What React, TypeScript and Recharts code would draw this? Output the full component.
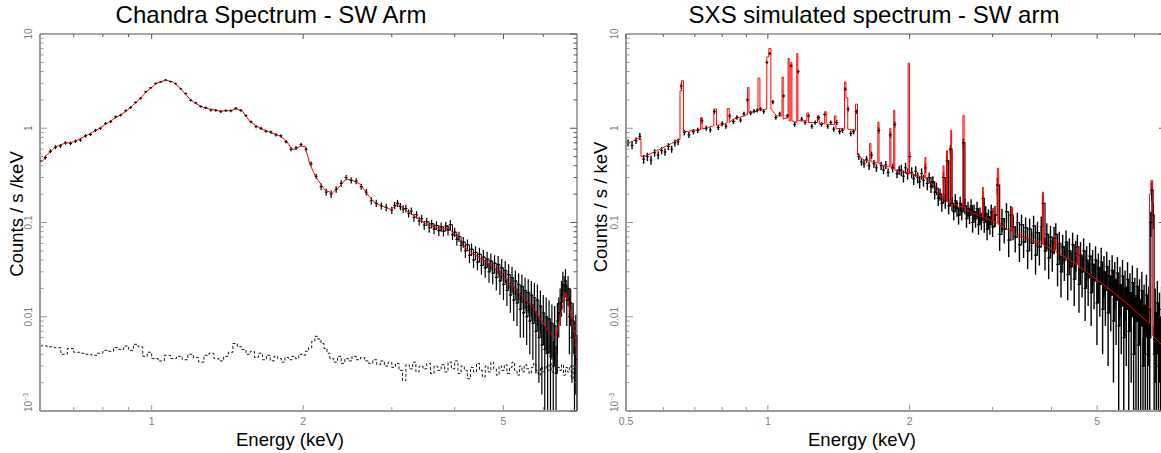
import React from 'react';
import { ComposedChart, Line, Scatter, XAxis, YAxis, ErrorBar } from 'recharts';

// ---------------- Chandra (left panel) ----------------
const chandraEnergy = [
  0.601, 0.615, 0.629, 0.644, 0.659, 0.674, 0.690, 0.706, 0.722, 0.739,
  0.756, 0.773, 0.791, 0.810, 0.829, 0.848, 0.868, 0.888, 0.908, 0.929,
  0.951, 0.973, 0.995, 1.019, 1.042, 1.066, 1.091, 1.116, 1.142, 1.169,
  1.196, 1.224, 1.252, 1.281, 1.311, 1.341, 1.372, 1.404, 1.437, 1.470,
  1.504, 1.539, 1.575, 1.612, 1.649, 1.687, 1.726, 1.766, 1.807, 1.849,
  1.892, 1.936, 1.981, 2.027, 2.074, 2.122, 2.171, 2.222, 2.273, 2.326,
  2.380, 2.435, 2.492, 2.549, 2.608, 2.669, 2.731, 2.794, 2.859, 2.925,
  3.00, 3.04, 3.08, 3.12, 3.16, 3.20, 3.24, 3.28, 3.32, 3.36,
  3.40, 3.44, 3.48, 3.52, 3.56, 3.60, 3.64, 3.68, 3.72, 3.76,
  3.80, 3.84, 3.88, 3.92, 3.96, 4.00, 4.04, 4.08, 4.12, 4.16,
  4.20, 4.24, 4.28, 4.32, 4.36, 4.40, 4.44, 4.48, 4.52, 4.56,
  4.60, 4.64, 4.68, 4.72, 4.76, 4.80, 4.84, 4.88, 4.92, 4.96,
  5.00, 5.04, 5.08, 5.12, 5.16, 5.20, 5.24, 5.28, 5.32, 5.36,
  5.40, 5.44, 5.48, 5.52, 5.56, 5.60, 5.64, 5.68, 5.72, 5.76,
  5.80, 5.84, 5.88, 5.92, 5.96, 6.00, 6.04, 6.08, 6.12, 6.16,
  6.20, 6.24, 6.28, 6.32, 6.36, 6.40, 6.44, 6.48, 6.52, 6.56,
  6.60, 6.64, 6.68, 6.72, 6.76, 6.80, 6.84, 6.88, 6.92, 6.96,
  7.00,
];
const chandraRate = [
  0.45, 0.49, 0.57, 0.63, 0.65, 0.70, 0.69, 0.73, 0.75, 0.83,
  0.86, 0.95, 1.00, 1.12, 1.18, 1.32, 1.38, 1.53, 1.66, 1.88,
  2.08, 2.43, 2.68, 2.98, 3.10, 3.25, 3.13, 2.97, 2.62, 2.33,
  1.98, 1.86, 1.70, 1.65, 1.56, 1.55, 1.50, 1.54, 1.53, 1.63,
  1.55, 1.36, 1.17, 1.04, 1.00, 0.93, 0.91, 0.85, 0.83, 0.72,
  0.60, 0.62, 0.67, 0.60, 0.42, 0.31, 0.24, 0.21, 0.20, 0.225,
  0.26, 0.30, 0.28, 0.275, 0.24, 0.21, 0.17, 0.16, 0.15, 0.145,
  0.135, 0.152, 0.160, 0.148, 0.139, 0.141, 0.125, 0.132, 0.113, 0.121,
  0.104, 0.110, 0.094, 0.102, 0.088, 0.097, 0.085, 0.093, 0.082, 0.090,
  0.081, 0.092, 0.083, 0.095, 0.074, 0.079, 0.066, 0.071, 0.057, 0.062,
  0.050, 0.058, 0.045, 0.052, 0.040, 0.048, 0.038, 0.046, 0.035, 0.043,
  0.033, 0.041, 0.030, 0.039, 0.029, 0.037, 0.026, 0.036, 0.024, 0.033,
  0.022, 0.031, 0.019, 0.028, 0.017, 0.026, 0.015, 0.024, 0.014, 0.022,
  0.012, 0.021, 0.011, 0.019, 0.010, 0.018, 0.0090, 0.017, 0.0085, 0.016,
  0.0070, 0.015, 0.0060, 0.013, 0.0050, 0.011, 0.0045, 0.010, 0.0042, 0.0095,
  0.0038, 0.0085, 0.0030, 0.0080, 0.0025, 0.0090, 0.011, 0.014, 0.017, 0.022,
  0.019, 0.024, 0.015, 0.020, 0.010, 0.014, 0.0060, 0.0090, 0.0030, 0.0060,
  0.0035,
];
const chandraError = [
  0.025, 0.025, 0.028, 0.03, 0.03, 0.03, 0.03, 0.03, 0.03, 0.035,
  0.035, 0.035, 0.04, 0.04, 0.04, 0.045, 0.045, 0.05, 0.05, 0.05,
  0.06, 0.06, 0.065, 0.07, 0.07, 0.07, 0.07, 0.07, 0.065, 0.06,
  0.055, 0.05, 0.05, 0.05, 0.05, 0.05, 0.05, 0.05, 0.05, 0.05,
  0.05, 0.045, 0.04, 0.04, 0.04, 0.035, 0.035, 0.035, 0.035, 0.03,
  0.03, 0.03, 0.03, 0.03, 0.025, 0.02, 0.02, 0.018, 0.018, 0.018,
  0.02, 0.02, 0.02, 0.02, 0.018, 0.017, 0.015, 0.014, 0.013, 0.013,
  0.012, 0.013, 0.014, 0.013, 0.013, 0.013, 0.012, 0.012, 0.011, 0.011,
  0.011, 0.011, 0.010, 0.010, 0.010, 0.010, 0.010, 0.010, 0.010, 0.010,
  0.010, 0.010, 0.010, 0.011, 0.009, 0.009, 0.009, 0.009, 0.008, 0.008,
  0.008, 0.008, 0.008, 0.008, 0.007, 0.008, 0.007, 0.008, 0.007, 0.008,
  0.007, 0.008, 0.007, 0.008, 0.007, 0.008, 0.007, 0.008, 0.007, 0.008,
  0.007, 0.008, 0.006, 0.008, 0.006, 0.008, 0.006, 0.007, 0.006, 0.007,
  0.006, 0.007, 0.005, 0.007, 0.005, 0.007, 0.005, 0.007, 0.005, 0.007,
  0.0045, 0.007, 0.004, 0.006, 0.0035, 0.006, 0.0035, 0.006, 0.0032, 0.0055,
  0.003, 0.005, 0.0025, 0.005, 0.0024, 0.005, 0.005, 0.006, 0.007, 0.008,
  0.008, 0.008, 0.007, 0.007, 0.006, 0.006, 0.004, 0.005, 0.0025, 0.0045,
  0.003,
];
const chandraBkgEnergy = [
  0.60, 0.62, 0.64, 0.66, 0.68, 0.70, 0.72, 0.74, 0.76, 0.78, 0.80, 0.82, 0.84, 0.86, 0.88, 0.90, 0.92, 0.94, 0.96, 0.98,
  1.00, 1.03, 1.06, 1.09, 1.12, 1.15, 1.18, 1.21, 1.24, 1.27, 1.30, 1.33, 1.36, 1.39, 1.42, 1.45, 1.48, 1.51, 1.54, 1.57,
  1.60, 1.63, 1.66, 1.69, 1.72, 1.75, 1.78, 1.81, 1.84, 1.87, 1.90, 1.93, 1.96, 1.99, 2.02, 2.05, 2.08, 2.11, 2.14, 2.17,
  2.20, 2.23, 2.26, 2.30, 2.34, 2.38, 2.42, 2.46, 2.50, 2.55, 2.60, 2.65, 2.70, 2.75, 2.80, 2.85, 2.90, 2.95, 3.00, 3.05,
  3.10, 3.15, 3.20, 3.25, 3.30, 3.35, 3.40, 3.46, 3.52, 3.58, 3.64, 3.70, 3.76, 3.82, 3.88, 3.94, 4.00, 4.06, 4.12, 4.18,
  4.24, 4.30, 4.36, 4.42, 4.48, 4.54, 4.60, 4.66, 4.72, 4.78, 4.84, 4.90, 4.96, 5.02, 5.08, 5.14, 5.20, 5.26, 5.32, 5.38,
  5.44, 5.50, 5.56, 5.62, 5.68, 5.74, 5.80, 5.86, 5.92, 5.98, 6.04, 6.10, 6.16, 6.22, 6.28, 6.34, 6.40, 6.46, 6.52, 6.58,
  6.64, 6.70, 6.76, 6.82, 6.88, 6.94, 7.00,
];
const chandraBkgRate = [
  0.0049, 0.0048, 0.0047, 0.0040, 0.0046, 0.0042, 0.0041, 0.0040, 0.0039, 0.0041, 0.0044, 0.0043, 0.0047, 0.0045, 0.0049, 0.0044, 0.0051, 0.0048, 0.0038, 0.0042,
  0.0036, 0.0034, 0.0039, 0.0036, 0.0038, 0.0035, 0.0040, 0.0037, 0.0033, 0.0039, 0.0041, 0.0036, 0.0034, 0.0038, 0.0042, 0.0052, 0.0048, 0.0045, 0.0040, 0.0043,
  0.0037, 0.0041, 0.0035, 0.0039, 0.0034, 0.0038, 0.0036, 0.0033, 0.0037, 0.0035, 0.0038, 0.0036, 0.0040, 0.0039, 0.0043, 0.0047, 0.0055, 0.0062, 0.0058, 0.0052,
  0.0046, 0.0041, 0.0036, 0.0033, 0.0038, 0.0032, 0.0036, 0.0034, 0.0038, 0.0035, 0.0037, 0.0034, 0.0032, 0.0035, 0.0031, 0.0034, 0.0030, 0.0033, 0.0029, 0.0032,
  0.0027, 0.0021, 0.0031, 0.0028, 0.0033, 0.0026, 0.0030, 0.0028, 0.0032, 0.0025, 0.0030, 0.0027, 0.0031, 0.0026, 0.0033, 0.0028, 0.0034, 0.0025, 0.0030, 0.0027,
  0.0022, 0.0029, 0.0026, 0.0032, 0.0027, 0.0023, 0.0030, 0.0026, 0.0033, 0.0028, 0.0024, 0.0030, 0.0027, 0.0031, 0.0025, 0.0029, 0.0033, 0.0027, 0.0024, 0.0030,
  0.0026, 0.0031, 0.0028, 0.0025, 0.0029, 0.0032, 0.0027, 0.0024, 0.0029, 0.0026, 0.0030, 0.0027, 0.0032, 0.0026, 0.0030, 0.0025, 0.0029, 0.0027, 0.0031, 0.0024,
  0.0029, 0.0026, 0.0030, 0.0022, 0.0028, 0.0025, 0.0027,
];
const chandraModelEnergy = [
  0.60, 0.61, 0.618, 0.629, 0.641, 0.656, 0.671, 0.703, 0.746, 0.788,
  0.836, 0.884, 0.934, 0.977, 1.023, 1.047, 1.071, 1.101, 1.137, 1.18,
  1.218, 1.275, 1.366, 1.43, 1.476, 1.518, 1.567, 1.641, 1.718, 1.798,
  1.857, 1.9, 1.935, 1.972, 2.017, 2.064, 2.122, 2.212, 2.284, 2.369,
  2.435, 2.503, 2.596, 2.693, 2.782, 2.979, 3.09, 3.266, 3.497, 3.746,
  3.887, 4.0, 4.242, 4.777, 5.237, 5.74, 6.12, 6.35, 6.53, 6.65,
  6.8, 6.96, 7.0,
];
const chandraModelRate = [
  0.43, 0.46, 0.52, 0.56, 0.62, 0.66, 0.69, 0.72, 0.85, 1.0,
  1.23, 1.48, 1.9, 2.45, 3.0, 3.15, 3.22, 3.1, 2.7, 2.15,
  1.85, 1.64, 1.52, 1.54, 1.6, 1.5, 1.18, 1.0, 0.91, 0.83,
  0.72, 0.6, 0.6, 0.65, 0.64, 0.41, 0.30, 0.22, 0.205, 0.245,
  0.29, 0.28, 0.255, 0.195, 0.16, 0.138, 0.155, 0.125, 0.098, 0.085,
  0.087, 0.075, 0.051, 0.034, 0.0205, 0.0123, 0.0072, 0.0059, 0.0118, 0.018,
  0.011, 0.0056, 0.0028,
];

// ---------------- SXS (right panel) ----------------
const sxsEnergy = [
  0.505, 0.515, 0.525, 0.535, 0.545, 0.555, 0.565, 0.575, 0.585, 0.595,
  0.605, 0.615, 0.625, 0.635, 0.645, 0.655, 0.665, 0.68, 0.695, 0.71,
  0.725, 0.74, 0.755, 0.77, 0.785, 0.80, 0.815, 0.83, 0.845, 0.86,
  0.875, 0.89, 0.905, 0.92, 0.935, 0.95, 0.965, 0.98, 0.995, 1.01,
  1.025, 1.04, 1.06, 1.08, 1.10, 1.12, 1.14, 1.16, 1.18, 1.20,
  1.22, 1.24, 1.26, 1.28, 1.30, 1.32, 1.34, 1.36, 1.38, 1.40,
  1.42, 1.44, 1.46, 1.48, 1.50, 1.52, 1.54, 1.56, 1.58, 1.60,
  1.62, 1.64, 1.66, 1.68, 1.70, 1.72, 1.74, 1.76, 1.78, 1.80,
  1.82, 1.84, 1.86, 1.88, 1.90, 1.92, 1.94, 1.96, 1.98, 2.00,
  2.02, 2.04, 2.06, 2.08, 2.10, 2.12, 2.14, 2.16, 2.18, 2.20,
  2.22, 2.24, 2.26, 2.28, 2.30, 2.32, 2.34, 2.36, 2.38, 2.40,
  2.42, 2.44, 2.46, 2.48, 2.50, 2.52, 2.54, 2.56, 2.58, 2.60,
  2.62, 2.64, 2.66, 2.68, 2.70, 2.72, 2.74, 2.76, 2.78, 2.80,
  2.82, 2.84, 2.86, 2.88, 2.90, 2.92, 2.94, 2.96, 2.98, 3.00,
  3.035, 3.07, 3.105, 3.14, 3.175, 3.21, 3.245, 3.28, 3.315, 3.35,
  3.385, 3.42, 3.455, 3.49, 3.525, 3.56, 3.595, 3.63, 3.665, 3.70,
  3.735, 3.77, 3.805, 3.84, 3.875, 3.91, 3.945, 3.98, 4.015, 4.05,
  4.085, 4.12, 4.155, 4.19, 4.225, 4.26, 4.295, 4.33, 4.365, 4.40,
  4.435, 4.47, 4.505, 4.54, 4.575, 4.61, 4.645, 4.68, 4.715, 4.75,
  4.785, 4.82, 4.855, 4.89, 4.925, 4.96, 4.995, 5.03, 5.065, 5.10,
  5.135, 5.17, 5.205, 5.24, 5.275, 5.31, 5.345, 5.38, 5.415, 5.45,
  5.485, 5.52, 5.555, 5.59, 5.625, 5.66, 5.695, 5.73, 5.765, 5.80,
  5.835, 5.87, 5.905, 5.94, 5.975, 6.01, 6.045, 6.08, 6.115, 6.15,
  6.185, 6.22, 6.255, 6.29, 6.325, 6.36, 6.395, 6.43, 6.465, 6.50,
  6.535, 6.57, 6.605, 6.64, 6.675, 6.71, 6.745, 6.78, 6.815, 6.85,
  6.885, 6.92, 6.955, 6.99,
];
const sxsRate = [
  0.70, 0.66, 0.74, 0.82, 0.47, 0.50, 0.46, 0.55, 0.52, 0.58,
  0.56, 0.64, 0.60, 0.70, 0.72, 2.8, 0.90, 0.85, 0.92, 0.95,
  1.20, 1.00, 0.96, 1.50, 1.02, 1.12, 1.05, 1.35, 1.18, 1.30,
  1.22, 1.42, 2.00, 1.45, 1.52, 1.55, 1.60, 1.50, 5.0, 6.2,
  1.90, 1.30, 1.42, 2.20, 1.35, 4.6, 1.10, 4.0, 1.25, 1.15,
  1.35, 1.05, 1.15, 1.30, 1.10, 1.40, 1.05, 1.15, 0.98, 1.15,
  0.92, 0.95, 2.6, 1.6, 0.88, 0.92, 1.5, 0.50, 0.44, 0.42,
  0.47, 0.40, 0.52, 0.42, 0.38, 0.95, 0.40, 0.36, 0.41, 0.34,
  0.85, 0.38, 1.10, 0.33, 0.36, 0.36, 0.31, 0.38, 0.33, 0.50,
  0.34, 0.29, 0.35, 0.30, 0.27, 0.33, 0.28, 0.38, 0.26, 0.30,
  0.24, 0.27, 0.21, 0.23, 0.18, 0.20, 0.16, 0.30, 0.17, 0.45,
  0.15, 0.60, 0.16, 0.13, 0.17, 0.14, 0.12, 0.16, 0.13, 0.70,
  0.15, 0.11, 0.14, 0.12, 0.15, 0.10, 0.13, 0.11, 0.14, 0.095,
  0.12, 0.105, 0.18, 0.10, 0.125, 0.085, 0.115, 0.095, 0.13, 0.09,
  0.12, 0.25, 0.075, 0.11, 0.085, 0.13, 0.065, 0.12, 0.09, 0.07,
  0.10, 0.058, 0.095, 0.062, 0.088, 0.05, 0.085, 0.06, 0.092, 0.045,
  0.078, 0.055, 0.09, 0.16, 0.05, 0.075, 0.042, 0.07, 0.048, 0.068,
  0.075, 0.036, 0.06, 0.03, 0.055, 0.04, 0.062, 0.028, 0.05, 0.034,
  0.058, 0.025, 0.047, 0.055, 0.022, 0.045, 0.03, 0.05, 0.02, 0.04,
  0.026, 0.044, 0.018, 0.036, 0.024, 0.04, 0.014, 0.033, 0.022, 0.038,
  0.012, 0.03, 0.019, 0.034, 0.011, 0.027, 0.017, 0.031, 0.009, 0.025,
  0.015, 0.029, 0.008, 0.022, 0.013, 0.027, 0.006, 0.02, 0.012, 0.025,
  0.007, 0.018, 0.01, 0.023, 0.004, 0.016, 0.009, 0.021, 0.005, 0.015,
  0.008, 0.019, 0.003, 0.013, 0.007, 0.017, 0.004, 0.012, 0.006, 0.10,
  0.22, 0.12, 0.004, 0.011, 0.005, 0.014, 0.003, 0.01, 0.005, 0.012,
  0.004, 0.009, 0.005, 0.011,
];
const sxsError = [
  0.06, 0.06, 0.06, 0.07, 0.05, 0.05, 0.05, 0.05, 0.05, 0.05,
  0.05, 0.055, 0.05, 0.06, 0.06, 0.2, 0.06, 0.06, 0.06, 0.06,
  0.08, 0.06, 0.06, 0.09, 0.06, 0.07, 0.06, 0.08, 0.07, 0.07,
  0.07, 0.08, 0.1, 0.08, 0.08, 0.08, 0.08, 0.08, 0.2, 0.25,
  0.1, 0.07, 0.08, 0.1, 0.07, 0.2, 0.06, 0.18, 0.07, 0.06,
  0.07, 0.06, 0.06, 0.07, 0.06, 0.07, 0.06, 0.06, 0.06, 0.07,
  0.06, 0.06, 0.12, 0.09, 0.06, 0.06, 0.08, 0.04, 0.04, 0.04,
  0.04, 0.04, 0.045, 0.04, 0.035, 0.07, 0.04, 0.035, 0.04, 0.035,
  0.06, 0.04, 0.08, 0.035, 0.04, 0.05, 0.045, 0.05, 0.045, 0.06,
  0.045, 0.04, 0.045, 0.04, 0.04, 0.045, 0.04, 0.045, 0.04, 0.04,
  0.035, 0.04, 0.035, 0.035, 0.03, 0.03, 0.03, 0.04, 0.03, 0.05,
  0.028, 0.06, 0.028, 0.025, 0.03, 0.025, 0.025, 0.028, 0.025, 0.08,
  0.028, 0.022, 0.026, 0.024, 0.027, 0.022, 0.025, 0.022, 0.026, 0.021,
  0.024, 0.022, 0.03, 0.022, 0.024, 0.02, 0.023, 0.021, 0.025, 0.02,
  0.03, 0.05, 0.025, 0.03, 0.025, 0.03, 0.022, 0.03, 0.025, 0.022,
  0.027, 0.02, 0.026, 0.02, 0.025, 0.018, 0.025, 0.02, 0.026, 0.017,
  0.024, 0.02, 0.026, 0.035, 0.019, 0.023, 0.017, 0.022, 0.018, 0.022,
  0.023, 0.015, 0.02, 0.014, 0.019, 0.016, 0.02, 0.013, 0.018, 0.015,
  0.02, 0.012, 0.017, 0.019, 0.011, 0.017, 0.014, 0.018, 0.011, 0.016,
  0.013, 0.017, 0.01, 0.015, 0.012, 0.016, 0.009, 0.014, 0.012, 0.016,
  0.008, 0.014, 0.011, 0.015, 0.008, 0.013, 0.01, 0.014, 0.007, 0.013,
  0.01, 0.014, 0.007, 0.012, 0.009, 0.013, 0.0055, 0.011, 0.009, 0.013,
  0.006, 0.011, 0.008, 0.012, 0.004, 0.01, 0.008, 0.012, 0.005, 0.01,
  0.007, 0.011, 0.003, 0.009, 0.0065, 0.011, 0.004, 0.009, 0.006, 0.03,
  0.05, 0.035, 0.004, 0.009, 0.005, 0.01, 0.003, 0.008, 0.005, 0.009,
  0.004, 0.008, 0.005, 0.009,
];
const sxsModelEnergy = [
  0.50, 0.515, 0.528, 0.538, 0.538, 0.55, 0.565, 0.58, 0.595, 0.61,
  0.625, 0.645, 0.651, 0.651, 0.656, 0.656, 0.662, 0.662, 0.68, 0.695,
  0.72, 0.72, 0.725, 0.725, 0.745, 0.768, 0.768, 0.778, 0.778, 0.80,
  0.82, 0.82, 0.828, 0.828, 0.845, 0.87, 0.906, 0.906, 0.912, 0.912,
  0.935, 0.953, 0.953, 0.962, 0.962, 0.995, 0.995, 1.005, 1.005, 1.015,
  1.015, 1.045, 1.072, 1.072, 1.078, 1.078, 1.104, 1.104, 1.11, 1.11,
  1.119, 1.119, 1.125, 1.125, 1.152, 1.152, 1.158, 1.158, 1.21, 1.21,
  1.22, 1.22, 1.275, 1.275, 1.285, 1.285, 1.32, 1.32, 1.33, 1.33,
  1.385, 1.385, 1.395, 1.395, 1.455, 1.455, 1.465, 1.465, 1.478, 1.478,
  1.535, 1.535, 1.55, 1.55, 1.60, 1.645, 1.645, 1.655, 1.655, 1.712,
  1.712, 1.722, 1.722, 1.79, 1.815, 1.815, 1.825, 1.825, 1.85, 1.85,
  1.86, 1.86, 1.94, 1.985, 1.985, 1.998, 1.998, 2.10, 2.155, 2.155,
  2.165, 2.165, 2.22, 2.27, 2.32, 2.355, 2.355, 2.365, 2.365, 2.395,
  2.395, 2.405, 2.405, 2.445, 2.445, 2.455, 2.455, 2.54, 2.595, 2.595,
  2.61, 2.61, 2.73, 2.855, 2.855, 2.865, 2.865, 2.97, 3.0, 3.0,
  3.012, 3.012, 3.07, 3.07, 3.09, 3.09, 3.22, 3.29, 3.29, 3.305,
  3.305, 3.43, 3.79, 3.825, 3.825, 3.845, 3.845, 4.065, 4.065, 4.085,
  4.085, 4.45, 4.545, 4.545, 4.565, 4.565, 4.83, 5.25, 5.87, 6.44,
  6.46, 6.46, 6.50, 6.50, 6.56, 6.56, 7.0,
];
const sxsModelRate = [
  0.69, 0.72, 0.78, 0.78, 0.50, 0.51, 0.54, 0.58, 0.61, 0.65,
  0.69, 0.76, 0.76, 2.5, 2.5, 3.2, 3.2, 0.92, 0.93, 0.95,
  0.97, 1.3, 1.3, 0.98, 1.02, 1.06, 1.6, 1.6, 1.08, 1.08,
  1.15, 1.62, 1.62, 1.15, 1.25, 1.3, 1.4, 2.7, 2.7, 1.45,
  1.5, 1.52, 3.4, 3.4, 1.55, 1.6, 5.7, 5.7, 7.0, 7.0,
  1.6, 1.35, 1.35, 3.5, 3.5, 1.25, 1.3, 5.5, 5.5, 1.2,
  1.2, 5.0, 5.0, 1.2, 1.15, 6.2, 6.2, 1.2, 1.2, 1.45,
  1.45, 1.15, 1.15, 1.35, 1.35, 1.12, 1.12, 1.5, 1.5, 1.1,
  1.1, 1.35, 1.35, 1.0, 0.98, 3.1, 3.1, 2.1, 2.1, 0.98,
  0.95, 1.8, 1.8, 0.52, 0.46, 0.45, 0.69, 0.69, 0.44, 0.43,
  1.16, 1.16, 0.42, 0.39, 0.39, 1.0, 1.0, 0.38, 0.37, 1.55,
  1.55, 0.36, 0.34, 0.34, 4.9, 4.9, 0.33, 0.31, 0.30, 0.49,
  0.49, 0.29, 0.27, 0.22, 0.19, 0.18, 0.40, 0.40, 0.175, 0.17,
  0.58, 0.58, 0.165, 0.16, 0.95, 0.95, 0.158, 0.15, 0.145, 1.37,
  1.37, 0.14, 0.125, 0.115, 0.237, 0.237, 0.114, 0.106, 0.104, 0.142,
  0.142, 0.102, 0.098, 0.376, 0.376, 0.095, 0.085, 0.08, 0.145, 0.145,
  0.078, 0.072, 0.060, 0.059, 0.21, 0.21, 0.058, 0.05, 0.073, 0.073,
  0.049, 0.038, 0.036, 0.055, 0.055, 0.035, 0.028, 0.0205, 0.013, 0.0085,
  0.0085, 0.20, 0.20, 0.28, 0.28, 0.0063, 0.0045,
];

// ---------------- ticks ----------------
const leftXTicks = [0.7, 0.8, 0.9, 1, 2, 3, 4, 5, 6];
const rightXTicks = [0.5, 0.6, 0.7, 0.8, 0.9, 1, 2, 3, 4, 5, 6];
const xTickLabels: Record<string, string> = { '0.5': '0.5', '1': '1', '2': '2', '5': '5' };
const yTickValues = [
  0.001, 0.002, 0.003, 0.004, 0.005, 0.006, 0.007, 0.008, 0.009,
  0.01, 0.02, 0.03, 0.04, 0.05, 0.06, 0.07, 0.08, 0.09,
  0.1, 0.2, 0.3, 0.4, 0.5, 0.6, 0.7, 0.8, 0.9,
  1, 2, 3, 4, 5, 6, 7, 8, 9, 10,
];
const yTickLabels: Record<string, string> = { '0.001': 'exp', '0.01': '0.01', '0.1': '0.1', '1': '1', '10': '10' };

// ---------------- tables ----------------
const Y_MIN = 0.001;
const Y_MAX = 10;
const points = (es: number[], vs: number[]) => es.map((e, i) => ({ e, v: vs[i] }));
// error bars are cut at the bottom of the plot (log axis cannot show values <= 0)
const pointsErr = (es: number[], vs: number[], errs: number[]) =>
  es.map((e, i) => ({ e, v: vs[i], err: [Math.min(errs[i], vs[i] - Y_MIN), errs[i]] }));

const chandraData = pointsErr(chandraEnergy, chandraRate, chandraError);
const chandraDataHigh = chandraData.filter((d) => d.e >= 3.5);
const chandraBkg = points(chandraBkgEnergy, chandraBkgRate);
const chandraModel = points(chandraModelEnergy, chandraModelRate);
const sxsData = pointsErr(sxsEnergy, sxsRate, sxsError);
const sxsDataHigh = sxsData.filter((d) => d.e >= 2.2);
const sxsModel = points(sxsModelEnergy, sxsModelRate);

const FONT = "'Liberation Sans', Arial, Helvetica, sans-serif";
const TICK_FILL = '#808080';

const renderYLabel = (label: string, tx: number, ty: number) => {
  if (label === 'exp') {
    return (
      <text x={tx} y={ty + 1} transform={`rotate(-90 ${tx} ${ty + 1})`} textAnchor="start" fontSize={10} fill={TICK_FILL} fontFamily={FONT}>
        <tspan>10</tspan>
        <tspan dy={-4} fontSize={7}>−3</tspan>
      </text>
    );
  }
  return (
    <text x={tx} y={ty} transform={`rotate(-90 ${tx} ${ty})`} textAnchor="middle" fontSize={10} fill={TICK_FILL} fontFamily={FONT}>
      {label}
    </text>
  );
};

const YTickLeft = (props: any) => {
  const { x, y, payload } = props;
  const label = yTickLabels[String(payload.value)];
  const len = label ? 7 : 3.5;
  return (
    <g>
      <line x1={x} x2={x + len} y1={y} y2={y} stroke="#9a9a9a" strokeWidth={1} />
      {label ? renderYLabel(label, x - 8, y) : null}
    </g>
  );
};
const YTickRight = (props: any) => {
  const { x, y, payload } = props;
  const label = yTickLabels[String(payload.value)];
  const len = label ? 7 : 3.5;
  return <line x1={x} x2={x - len} y1={y} y2={y} stroke="#555" strokeWidth={1} />;
};
const XTickBottom = (props: any) => {
  const { x, y, payload } = props;
  const label = xTickLabels[String(payload.value)];
  const len = label ? 6 : 4;
  return (
    <g>
      <line x1={x} x2={x} y1={y} y2={y - len} stroke="#9a9a9a" strokeWidth={1} />
      {label ? (
        <text x={x} y={y + 14} textAnchor="middle" fontSize={10.5} fill={TICK_FILL} fontFamily={FONT}>
          {label}
        </text>
      ) : null}
    </g>
  );
};
const XTickTop = (props: any) => {
  const { x, y, payload } = props;
  const label = xTickLabels[String(payload.value)];
  const len = label ? 5 : 3;
  return <line x1={x} x2={x} y1={y} y2={y + len} stroke="#555" strokeWidth={1} />;
};

const crossShape = (p: any) => {
  if (!isFinite(p.cx) || !isFinite(p.cy)) return <g />;
  return <line x1={p.cx - 1.5} x2={p.cx + 1.5} y1={p.cy} y2={p.cy} stroke="#000" strokeWidth={1} />;
};

type PanelProps = {
  left: number;
  width: number;
  margin: { top: number; right: number; bottom: number; left: number };
  xDomain: [number, number];
  xTicks: number[];
  children: React.ReactNode;
};

// axes are 1px thick boxes, so the margins below are 1px less than the plot edges
const Panel = ({ left, width, margin, xDomain, xTicks, children }: PanelProps) => (
  <div style={{ position: 'absolute', left, top: 0 }}>
    <ComposedChart width={width} height={453} margin={margin}>
      <XAxis
        xAxisId="b"
        dataKey="e"
        type="number"
        scale="log"
        domain={xDomain}
        allowDataOverflow
        ticks={xTicks}
        interval={0}
        height={1}
        tickSize={0}
        tickMargin={0}
        tickLine={false}
        tick={XTickBottom}
        axisLine={{ stroke: '#9a9a9a', strokeWidth: 2 }}
      />
      <XAxis
        xAxisId="t"
        orientation="top"
        dataKey="e"
        type="number"
        scale="log"
        domain={xDomain}
        allowDataOverflow
        ticks={xTicks}
        interval={0}
        height={1}
        tickSize={0}
        tickMargin={0}
        tickLine={false}
        tick={XTickTop}
        axisLine={{ stroke: '#555', strokeWidth: 1 }}
      />
      <YAxis
        yAxisId="l"
        dataKey="v"
        type="number"
        scale="log"
        domain={[Y_MIN, Y_MAX]}
        allowDataOverflow
        ticks={yTickValues}
        interval={0}
        width={1}
        tickSize={0}
        tickMargin={0}
        tickLine={false}
        tick={YTickLeft}
        axisLine={{ stroke: '#9a9a9a', strokeWidth: 2 }}
      />
      <YAxis
        yAxisId="r"
        orientation="right"
        dataKey="v"
        type="number"
        scale="log"
        domain={[Y_MIN, Y_MAX]}
        allowDataOverflow
        ticks={yTickValues}
        interval={0}
        width={1}
        tickSize={0}
        tickMargin={0}
        tickLine={false}
        tick={YTickRight}
        axisLine={{ stroke: '#555', strokeWidth: 1 }}
      />
      {children}
    </ComposedChart>
  </div>
);

export default function App() {
  return (
    <div style={{ position: 'absolute', left: 0, top: 0, width: 1161, height: 453, overflow: 'hidden', background: '#fff' }}>
      <Panel left={0} width={590} margin={{ top: 33, right: 12, bottom: 41, left: 39 }} xDomain={[0.6, 7]} xTicks={leftXTicks}>
        <Line
          xAxisId="b"
          yAxisId="l"
          data={chandraBkg}
          dataKey="v"
          type="stepAfter"
          stroke="#000"
          strokeWidth={0.9}
          strokeDasharray="3 2"
          dot={false}
          isAnimationActive={false}
        />
        <Line
          xAxisId="b"
          yAxisId="l"
          data={chandraDataHigh}
          dataKey="v"
          type="stepAfter"
          stroke="#111"
          strokeWidth={1}
          dot={false}
          isAnimationActive={false}
        />
        <Scatter xAxisId="b" yAxisId="l" data={chandraData} shape={crossShape} isAnimationActive={false}>
          <ErrorBar dataKey="err" direction="y" width={0} stroke="#000" strokeWidth={1.2} isAnimationActive={false} />
        </Scatter>
        <Line
          xAxisId="b"
          yAxisId="l"
          data={chandraModel}
          dataKey="v"
          type="linear"
          stroke="#ff0000"
          strokeWidth={1}
          dot={false}
          isAnimationActive={false}
        />
      </Panel>
      <Panel left={590} width={586} margin={{ top: 33, right: 9, bottom: 41, left: 35 }} xDomain={[0.5, 7]} xTicks={rightXTicks}>
        <Line
          xAxisId="b"
          yAxisId="l"
          data={sxsDataHigh}
          dataKey="v"
          type="stepAfter"
          stroke="#000"
          strokeWidth={1.2}
          dot={false}
          isAnimationActive={false}
        />
        <Scatter xAxisId="b" yAxisId="l" data={sxsData} shape={crossShape} isAnimationActive={false}>
          <ErrorBar dataKey="err" direction="y" width={0} stroke="#000" strokeWidth={1.4} isAnimationActive={false} />
        </Scatter>
        <Line
          xAxisId="b"
          yAxisId="l"
          data={sxsModel}
          dataKey="v"
          type="linear"
          stroke="#ff0000"
          strokeWidth={1}
          dot={false}
          isAnimationActive={false}
        />
      </Panel>
      <svg width={1161} height={453} style={{ position: 'absolute', left: 0, top: 0, pointerEvents: 'none' }}>
        <text x={271} y={23} textAnchor="middle" fontSize={24} fontFamily={FONT} fill="#000">Chandra Spectrum - SW Arm</text>
        <text x={874} y={23} textAnchor="middle" fontSize={24} fontFamily={FONT} fill="#000">SXS simulated spectrum - SW arm</text>
        <text x={290} y={446} textAnchor="middle" fontSize={18.5} fontFamily={FONT} fill="#000">Energy (keV)</text>
        <text x={862} y={446} textAnchor="middle" fontSize={18.5} fontFamily={FONT} fill="#000">Energy (keV)</text>
        <text x={23} y={214} transform="rotate(-90 23 214)" textAnchor="middle" fontSize={18.5} fontFamily={FONT} fill="#000">Counts / s /keV</text>
        <text x={607} y={207} transform="rotate(-90 607 207)" textAnchor="middle" fontSize={18.5} fontFamily={FONT} fill="#000">Counts / s / keV</text>
      </svg>
    </div>
  );
}
